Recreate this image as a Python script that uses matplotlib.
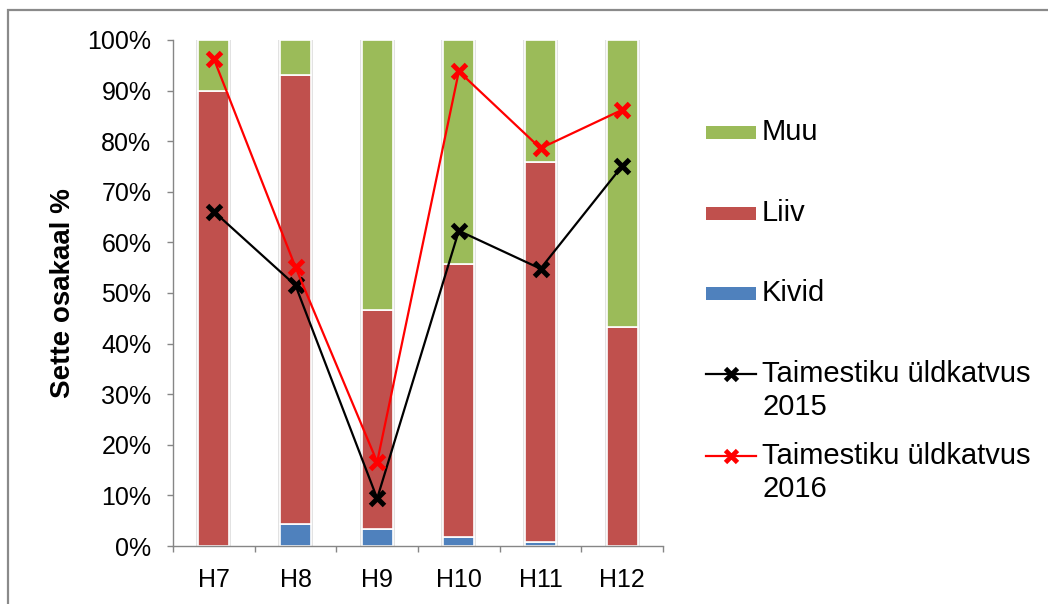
import matplotlib
matplotlib.use("Agg")
import matplotlib.pyplot as plt
import numpy as np
from matplotlib.patches import Rectangle
from matplotlib.lines import Line2D

# Sediment composition per site (%), stacked bottom -> top
sites = ["H7", "H8", "H9", "H10", "H11", "H12"]
kivid = [0.0, 4.3, 3.4, 1.8, 0.8, 0.0]
liiv = [90.0, 88.7, 43.2, 54.0, 75.1, 43.3]
muu = [10.0, 7.0, 53.4, 44.2, 24.1, 56.7]

# Total vegetation cover (%)
katvus_2015 = [66.1, 51.5, 9.4, 62.3, 54.8, 75.1]
katvus_2016 = [96.3, 55.1, 16.6, 93.8, 78.6, 86.2]

y_ticks = [0, 10, 20, 30, 40, 50, 60, 70, 80, 90, 100]
y_label = "Sette osakaal %"

bar_labels = ["Kivid", "Liiv", "Muu"]
line_labels = ["Taimestiku üldkatvus\n2015", "Taimestiku üldkatvus\n2016"]

C_KIVID = "#4F81BD"
C_LIIV = "#C0504D"
C_MUU = "#9BBB59"
C_2015 = "#000000"
C_2016 = "#FF0000"
GRAY = "#868686"

plt.rcParams["font.family"] = ["Liberation Sans", "DejaVu Sans"]

W, H = 1048, 604
fig = plt.figure(figsize=(W / 100, H / 100), dpi=100)


def fx(px):
    return px / W


def fy(py):
    return 1 - py / H


ax = fig.add_axes([fx(173), fy(546), fx(663) - fx(173), fy(40) - fy(546)])

x = np.arange(len(sites))
kivid_a = np.array(kivid)
liiv_a = np.array(liiv)
muu_a = np.array(muu)
width = 0.38

# soft outline behind each full column
ax.bar(x, kivid_a + liiv_a + muu_a, width, facecolor="none",
       edgecolor="#dcdcdc", linewidth=2.6, zorder=1)
ax.bar(x, kivid_a, width, color=C_KIVID, edgecolor="white", linewidth=1.2, zorder=2)
ax.bar(x, liiv_a, width, bottom=kivid_a, color=C_LIIV, edgecolor="white",
       linewidth=1.2, zorder=2)
ax.bar(x, muu_a, width, bottom=kivid_a + liiv_a, color=C_MUU, edgecolor="white",
       linewidth=1.2, zorder=2)

line_kw = dict(marker="x", markersize=10, markeredgewidth=3.6, linewidth=1.6, zorder=4)
ax.plot(x, katvus_2015, color=C_2015, **line_kw)
ax.plot(x, katvus_2016, color=C_2016, **line_kw)

ax.set_xlim(-0.5, len(sites) - 0.5)
ax.set_ylim(0, 100)
ax.set_yticks(y_ticks)
ax.set_yticklabels([f"{v}%" for v in y_ticks])
ax.set_xticks(x)
ax.set_xticklabels(sites)
ax.set_xticks(np.arange(len(sites) + 1) - 0.5, minor=True)

for s in ["top", "right"]:
    ax.spines[s].set_visible(False)
for s in ["left", "bottom"]:
    ax.spines[s].set_color(GRAY)
    ax.spines[s].set_linewidth(1.0)

ax.tick_params(axis="y", direction="out", length=4.5, width=1, color=GRAY,
               labelsize=18, pad=11)
ax.tick_params(axis="x", which="major", length=0, labelsize=18, pad=16)
ax.tick_params(axis="x", which="minor", direction="out", length=4.5, width=1,
               color=GRAY)

fig.text(fx(63), fy(293), y_label, rotation=90, fontsize=20, fontweight="bold",
         ha="center", va="center")

# legend, top to bottom: Muu, Liiv, Kivid, 2015, 2016
patch_entries = [(bar_labels[2], C_MUU, 132.5), (bar_labels[1], C_LIIV, 213),
                 (bar_labels[0], C_KIVID, 293)]
for lab, col, py in patch_entries:
    fig.add_artist(Rectangle((fx(706), fy(py + 6.5)), fx(756) - fx(706), 13 / H,
                             transform=fig.transFigure, facecolor=col,
                             edgecolor="none"))
    fig.text(fx(762), fy(py), lab, fontsize=21, ha="left", va="center")

line_entries = [(line_labels[0], C_2015, 374), (line_labels[1], C_2016, 456)]
for lab, col, py in line_entries:
    fig.add_artist(Line2D([fx(706), fx(756)], [fy(py), fy(py)],
                          transform=fig.transFigure, color=col, linewidth=1.6))
    fig.add_artist(Line2D([fx(731)], [fy(py)], transform=fig.transFigure,
                          color=col, marker="x", markersize=8, markeredgewidth=3.4))
    for i, part in enumerate(lab.split("\n")):
        fig.text(fx(762), fy(py + 33 * i), part, fontsize=21, ha="left",
                 va="center")

# outer chart frame
fig.add_artist(Rectangle((fx(8), -0.1), 1.2, fy(10) + 0.1,
                         transform=fig.transFigure, facecolor="none",
                         edgecolor="#8a8a8a", linewidth=1.6))

fig.savefig("out.png", dpi=100)
